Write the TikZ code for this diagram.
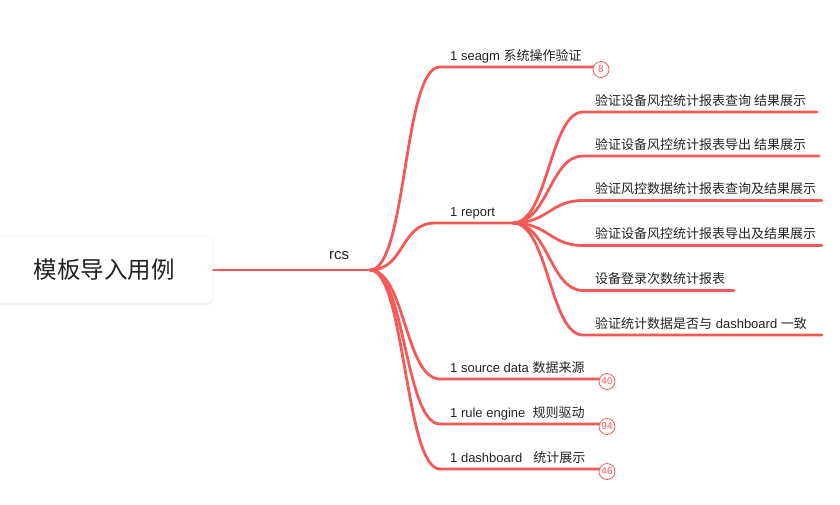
\documentclass[tikz,border=0pt]{standalone}
\usepackage{fontspec}
\setmainfont{Noto Sans CJK SC}
\newfontfamily\lf{Liberation Sans}
\usetikzlibrary{shadows}
\definecolor{br}{RGB}{242,90,90}
\definecolor{txt}{RGB}{35,35,35}
\begin{document}
\begin{tikzpicture}[x=1pt,y=-1pt,
  branch/.style={draw=br, line width=2.8pt, line cap=round},
  lbl/.style={anchor=base west, inner sep=0pt, font=\fontsize{13}{15}\selectfont, text=txt},
  badge/.style={circle, draw=br, line width=0.8pt, fill=white, minimum size=16pt, inner sep=0pt, font=\lf\fontsize{10}{11}\selectfont, text=br},
  rootbox/.style={rectangle, rounded corners=6pt, fill=white, draw=black!6, line width=0.5pt,
    minimum width=218pt, minimum height=67pt, font=\fontsize{23.5}{26}\selectfont, text=txt,
    drop shadow={opacity=0.10, shadow xshift=0pt, shadow yshift=-2pt}}]
\useasboundingbox (0,0) rectangle (840,504);

% root and hub
\node[rootbox] (root) at (104,269.5) {模板导入用例};
\coordinate (hub) at (370,270);
\node[anchor=base, inner sep=0pt, font=\lf\fontsize{15}{17}\selectfont, text=txt] (rcs) at (339,259) {rcs};
\draw[branch] (root.east |- hub) -- (hub);

% first-level end points
\coordinate (e1) at (440,67);
\coordinate (e2) at (435,223);
\coordinate (e3) at (440,379);
\coordinate (e4) at (440,424);
\coordinate (e5) at (440,469);
\coordinate (sh) at (513,223);

% badge positions
\coordinate (p1) at (601,69.5);
\coordinate (p3) at (607,381.5);
\coordinate (p4) at (607,426.5);
\coordinate (p5) at (607,471.5);

% first-level connectors
\draw[branch] (hub) .. controls (407,270) and (403,67) .. (e1) -- (e1 -| p1);
\draw[branch] (hub) .. controls (405,270) and (400,223) .. (e2) -- (sh);
\draw[branch] (hub) .. controls (405,270) and (405,379) .. (e3) -- (e3 -| p3);
\draw[branch] (hub) .. controls (405,270) and (405,424) .. (e4) -- (e4 -| p4);
\draw[branch] (hub) .. controls (405,270) and (405,469) .. (e5) -- (e5 -| p5);

% badges on top
\node[badge] (b1) at (p1) {8};
\node[badge] (b3) at (p3) {40};
\node[badge] (b4) at (p4) {94};
\node[badge] (b5) at (p5) {46};

% first-level labels
\node[lbl] (l1) at (450,60) {{\lf 1 seagm }系统操作验证};
\node[lbl] (l2) at (450,216) {{\lf 1 report}};
\node[lbl] (l3) at (450,372) {{\lf 1 source data }数据来源};
\node[lbl] (l4) at (450,417) {{\lf 1 rule engine\ \ }规则驱动};
\node[lbl] (l5) at (450,462) {{\lf 1 dashboard\ \ \ }统计展示};

% report sub-branches
\coordinate (s1) at (583,112);  \coordinate (t1) at (817,112);
\coordinate (s2) at (583,156);  \coordinate (t2) at (819,156);
\coordinate (s3) at (583,200.5);\coordinate (t3) at (822,200.5);
\coordinate (s4) at (583,245.5);\coordinate (t4) at (822,245.5);
\coordinate (s5) at (583,290.5);\coordinate (t5) at (734,290.5);
\coordinate (s6) at (583,335);  \coordinate (t6) at (822,335);

\draw[branch] (sh) .. controls (548,223) and (550,112) .. (s1) -- (t1);
\draw[branch] (sh) .. controls (548,223) and (550,156) .. (s2) -- (t2);
\draw[branch] (sh) .. controls (548,223) and (550,200.5) .. (s3) -- (t3);
\draw[branch] (sh) .. controls (548,223) and (550,245.5) .. (s4) -- (t4);
\draw[branch] (sh) .. controls (548,223) and (550,290.5) .. (s5) -- (t5);
\draw[branch] (sh) .. controls (548,223) and (550,335) .. (s6) -- (t6);

\node[lbl] (r1) at (595,105) {验证设备风控统计报表查询 结果展示};
\node[lbl] (r2) at (595,149) {验证设备风控统计报表导出 结果展示};
\node[lbl] (r3) at (595,193.5) {验证风控数据统计报表查询及结果展示};
\node[lbl] (r4) at (595,238.5) {验证设备风控统计报表导出及结果展示};
\node[lbl] (r5) at (595,283.5) {设备登录次数统计报表};
\node[lbl] (r6) at (595,328) {验证统计数据是否与{\lf\ dashboard }一致};
\end{tikzpicture}
\end{document}
